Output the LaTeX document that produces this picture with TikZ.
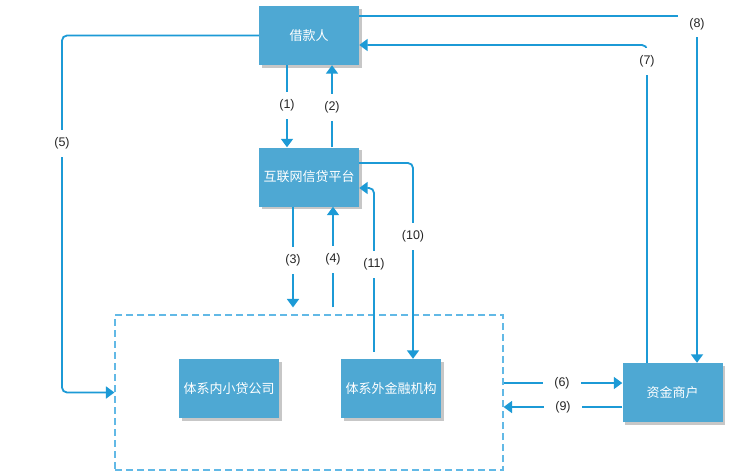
\documentclass[tikz,border=0pt]{standalone}
\usepackage{fontspec}
\setmainfont{Liberation Sans}
\newfontfamily\cjk{Noto Sans CJK SC}
\usetikzlibrary{arrows.meta,shadows,calc}
\definecolor{boxfill}{HTML}{4EA8D3}
\definecolor{linec}{HTML}{1C9AD6}
\definecolor{dashc}{HTML}{62B9E6}
\begin{document}
\begin{tikzpicture}[x=1pt,y=-1pt,
  box/.style={rectangle, fill=boxfill, minimum width=100pt, minimum height=59pt, inner sep=0pt,
    text=white, font=\cjk\fontsize{13}{15}\selectfont,
    drop shadow={shadow xshift=2.5pt, shadow yshift=-2.5pt, fill=black, opacity=0.22}},
  conn/.style={draw=linec, line width=1.8pt, -{Triangle[width=12pt,length=8.5pt]}, rounded corners=5pt},
  lab/.style={fill=white, inner sep=0pt, minimum width=36pt, minimum height=27pt,
    font=\fontsize{12.5}{14}\selectfont, text=black!85},
  grp/.style={draw=dashc, line width=1.15pt, dash pattern=on 7pt off 4pt, minimum width=388pt, minimum height=155pt, inner sep=0pt}
]
\useasboundingbox (0,0) rectangle (730,471);
\fill[white] (0,0) rectangle (730,471);
\node[grp] (group) at (309,392.5) {};
\node[box] (borrower) at (309,35.5) {借款人};
\node[box] (plat) at (309,177) {互联网信贷平台};
\node[box] (inner) at (229,388.5) {体系内小贷公司};
\node[box] (outer) at (391,388.5) {体系外金融机构};
\node[box] (fund) at (672.5,392.5) {资金商户};
\coordinate (c5) at (62,392.5);
% (1) (2)
\draw[conn] (borrower.south -| 287,0) -- (plat.north -| 287,0);
\node[lab] at (287,105) {(1)};
\draw[conn] (plat.north -| 332,0) -- (borrower.south -| 332,0);
\node[lab] at (332,107) {(2)};
% (3) (4)
\draw[conn, shorten >=7pt] (plat.south -| 293,0) -- (group.north -| 293,0);
\node[lab] at (293,260) {(3)};
\draw[conn, shorten <=7pt] (group.north -| 333,0) -- (plat.south -| 333,0);
\node[lab] at (333,259) {(4)};
% (10) (11)
\draw[conn] (plat.east |- 0,163) -| (outer.north -| 413,0);
\node[lab] at (413,236) {(10)};
\draw[conn, shorten <=7pt] (outer.north -| 374,0) |- (plat.east |- 0,188);
\node[lab] at (374,264) {(11)};
% (5)
\draw[conn] (borrower.west) -| (c5) -- (group.west);
\node[lab] at (62,143) {(5)};
% (6) (9)
\draw[conn] (group.east |- 0,383) -- (fund.west |- 0,383);
\node[lab, minimum width=38pt] at (562,383) {(6)};
\draw[conn] (fund.west |- 0,407) -- (group.east |- 0,407);
\node[lab, minimum width=38pt] at (563,407) {(9)};
% (7) (8)
\draw[conn] (fund.north -| 647,0) |- (borrower.east |- 0,45);
\node[lab] at (647,61) {(7)};
\draw[conn] (borrower.east |- 0,16) -| (fund.north -| 697,0);
\node[lab, minimum width=38pt, minimum height=26pt] at (697,24) {(8)};
\end{tikzpicture}
\end{document}
